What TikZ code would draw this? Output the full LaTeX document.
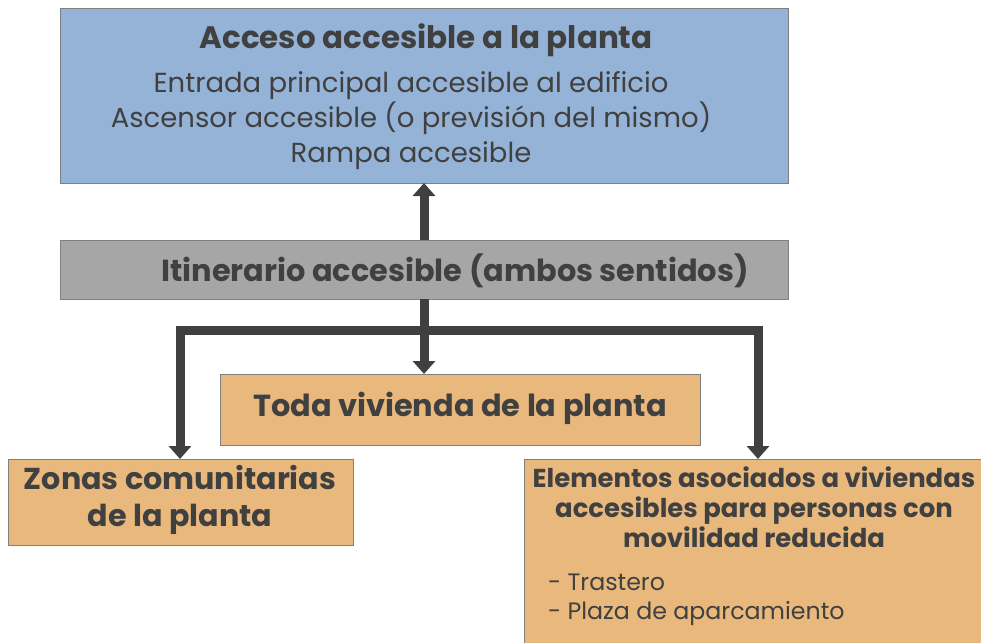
\documentclass[tikz,border=0pt]{standalone}
\usepackage{fontspec}
\setmainfont{Poppins}
\usetikzlibrary{arrows.meta}
\definecolor{blueF}{HTML}{95B3D7}
\definecolor{grayF}{HTML}{A6A6A6}
\definecolor{tanF}{HTML}{E9B87C}
\definecolor{edgeC}{HTML}{808080}
\definecolor{txtC}{HTML}{404040}
\definecolor{arrC}{HTML}{404040}
\tikzset{
  box/.style={draw=edgeC, line width=1.2pt, inner sep=0pt, anchor=north west},
  conn/.style={draw=arrC, line width=9pt, line join=miter, -{Triangle[width=22pt,length=13pt]}},
  ttl/.style={text=txtC, font=\bfseries, align=center, inner sep=0pt},
  reg/.style={text=txtC, align=center, inner sep=0pt},
}
\begin{document}
\begin{tikzpicture}[x=1pt,y=-1pt]
\useasboundingbox (0,0) rectangle (981,642);
\clip (0,0) rectangle (981,642);
% boxes
\node[box, fill=blueF, minimum width=728pt, minimum height=175pt] (acc) at (60,8) {};
\node[box, fill=grayF, minimum width=728pt, minimum height=59pt] (itin) at (60,240) {};
\node[box, fill=tanF, minimum width=480pt, minimum height=71pt] (toda) at (220,374) {};
\node[box, fill=tanF, minimum width=345pt, minimum height=86pt] (zonas) at (8,459) {};
\node[box, fill=tanF, minimum width=470pt, minimum height=200pt] (elem) at (524,459) {};
% texts
\node[ttl, font=\bfseries\fontsize{31}{35}\selectfont] (t1) at (426,40) {Acceso accesible a la planta};
\node[reg, font=\fontsize{27.5}{35}\selectfont] (t2) at (411,121) {Entrada principal accesible al edificio\\Ascensor accesible (o previsión del mismo)\\Rampa accesible};
\node[ttl, font=\bfseries\fontsize{30.4}{35}\selectfont] (t3) at (455,271) {Itinerario accesible (ambos sentidos)};
\node[ttl, font=\bfseries\fontsize{30.4}{35}\selectfont] (t4) at (460,408) {Toda vivienda de la planta};
\node[ttl, font=\bfseries\fontsize{30.2}{37}\selectfont] (t5) at (180,500) {Zonas comunitarias\\de la planta};
\node[ttl, font=\bfseries\fontsize{25.9}{30}\selectfont] (t6) at (754,507) {Elementos asociados a viviendas\\accesibles para personas con\\movilidad reducida};
\node[reg, font=\fontsize{23.7}{29}\selectfont, align=left, anchor=west] (t7) at (548,600) {- Trastero\\- Plaza de aparcamiento};
% connectors
\coordinate (j) at (424,330);
\draw[conn] (424,240) -- (424,183);
\draw[conn] (424,299) -- (toda.north -| 424,0);
\draw[conn] (j) -| (zonas.north -| 180,0);
\draw[conn] (j) -| (elem.north -| 758,0);
\end{tikzpicture}
\end{document}
